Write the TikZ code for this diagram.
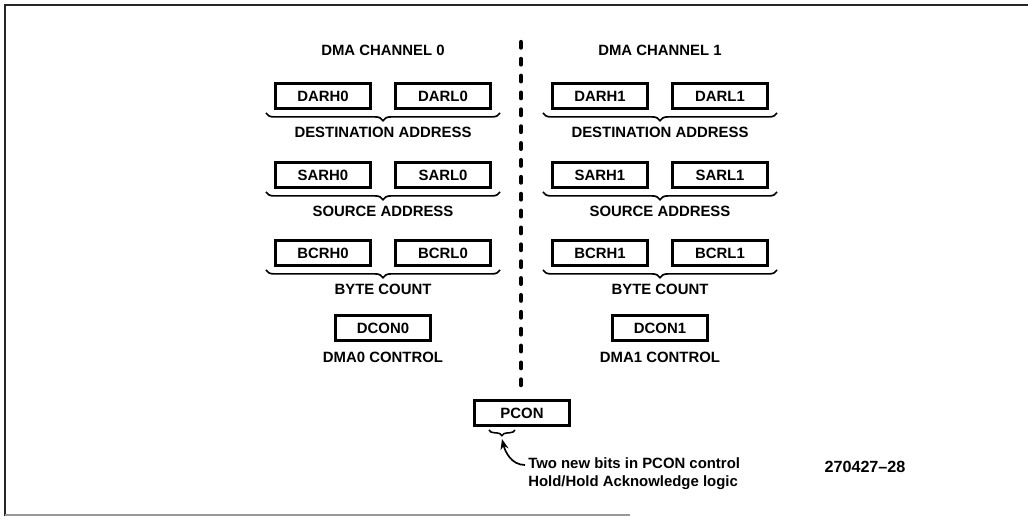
\documentclass[tikz,border=0pt]{standalone}
\usepackage{fontspec}
\setmainfont{Liberation Sans}
\usepackage{tikz}
\usetikzlibrary{positioning,arrows.meta,calc,decorations.pathreplacing}

\begin{document}
\begin{tikzpicture}[
  x=0.025cm, y=-0.025cm,
  font=\bfseries\fontsize{10.6}{12}\selectfont,
  reg/.style={draw=black, line width=2.3pt, minimum width=2.37cm, minimum height=0.62cm, inner sep=0pt},
  lbl/.style={inner sep=1pt},
  brc/.style={decorate, decoration={brace, mirror, amplitude=5.5pt}, line width=1.2pt},
  pbrc/.style={decorate, decoration={brace, mirror, amplitude=4pt}, line width=1.1pt},
  divider/.style={line width=3pt, line cap=round, dash pattern=on 4pt off 8pt},
  frame/.style={line width=1.8pt, draw=black!85},
  note/.style={align=left, inner sep=0pt, font=\bfseries\fontsize{10.6}{13}\selectfont},
  flow/.style={-{Stealth[length=2.6mm, width=2mm]}, line width=1.2pt},
]
\useasboundingbox (0,0) rectangle (1028,517);

% Frame
\draw[frame] (5,516) -- (5,5) -- (1028,5);
\draw[draw=black!40, line width=0.8pt] (5,515) -- (630,515);

% Channels
\foreach \ch/\cx in {0/383,1/660}{
  \node[lbl] (title\ch) at (\cx,50) {DMA CHANNEL \ch};
  \foreach \pre/\txt/\cy in {DAR/DESTINATION ADDRESS/96, SAR/SOURCE ADDRESS/175, BCR/BYTE COUNT/253}{
    \node[reg] (\pre H\ch) at (\cx-60,\cy) {\pre H\ch};
    \node[reg] (\pre L\ch) at (\cx+60,\cy) {\pre L\ch};
    \draw[brc] ($(\pre H\ch.south west)+(-8,3)$) -- ($(\pre L\ch.south east)+(8,3)$);
    \node[lbl] (\pre lbl\ch) at (\cx,\cy+36) {\txt};
  }
  \node[reg] (DCON\ch) at (\cx,328) {DCON\ch};
  \node[lbl] (DCONlbl\ch) at (\cx,357) {DMA\ch{} CONTROL};
}

% Divider
\coordinate (divtop) at (521,42);
\coordinate (divbot) at (521,386);
\draw[divider] (divtop) -- (divbot);

% Port control
\node[reg] (PCON) at (522,413) {PCON};
\draw[pbrc] ($(PCON.south west)+(16,3)$) -- ($(PCON.south west)+(42,3)$);
\coordinate (ptip) at ($(PCON.south west)+(29,12)$);

% Note
\node[note, anchor=west] (note) at (528,474) {Two new bits in PCON control\\Hold/Hold Acknowledge logic};
\draw[flow] ($(note.west)+(-3,-9)$) .. controls +(-14,0) and +(3,12) .. (ptip);

% Figure number
\node[lbl, font=\bfseries\fontsize{11.5}{13}\selectfont] (fignum) at (865,467) {270427–28};

\end{tikzpicture}
\end{document}
